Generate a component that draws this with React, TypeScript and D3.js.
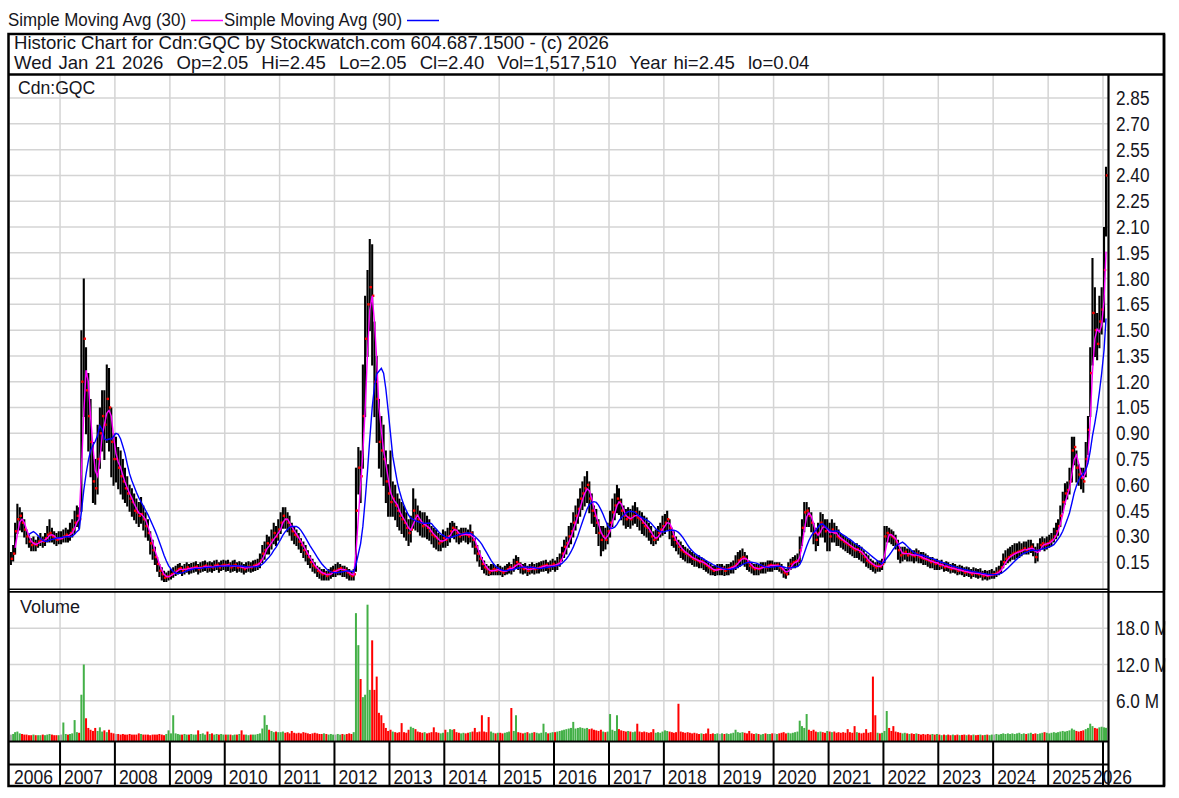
import React from 'react';
import * as d3 from 'd3';

// ---- DATA (semi-monthly periods, Feb 2006 .. Jan 21 2026) ----
const closes = [
  // 2006 (Feb-Dec)
  .17,.20,.33,.40,.42,.38,.34,.30,.27,.25,.26,.25,.27,.28,.27,.29,.31,.32,.30,.29,.28,.29,
  // 2007
  .29,.30,.31,.30,.32,.34,.38,.42,.40,1.20,1.45,1.15,1.00,.85,.62,.58,.75,.90,1.00,.95,1.10,1.05,.85,.75,
  // 2008
  .75,.70,.65,.62,.58,.55,.52,.50,.45,.44,.42,.43,.40,.36,.32,.26,.22,.18,.14,.10,.08,.06,.065,.07,
  // 2009
  .08,.09,.10,.11,.115,.10,.11,.12,.11,.115,.12,.125,.11,.12,.125,.13,.12,.125,.12,.13,.135,.12,.13,.135,
  // 2010
  .13,.135,.12,.13,.135,.12,.125,.12,.11,.12,.125,.12,.13,.135,.14,.16,.20,.22,.26,.25,.28,.32,.30,.34,
  // 2011
  .38,.42,.40,.38,.36,.33,.31,.30,.27,.25,.22,.20,.18,.15,.13,.12,.10,.09,.08,.085,.07,.08,.09,.10,
  // 2012
  .10,.11,.115,.10,.105,.09,.08,.07,.08,.45,.70,.65,1.00,1.45,1.65,1.75,1.70,1.20,1.10,.85,.80,.75,.62,.55,
  // 2013
  .50,.52,.48,.45,.42,.40,.38,.35,.32,.34,.45,.42,.40,.38,.36,.37,.35,.33,.31,.30,.29,.26,.27,.29,
  // 2014
  .28,.30,.33,.35,.34,.32,.30,.31,.32,.31,.30,.32,.28,.24,.20,.17,.14,.12,.11,.09,.10,.11,.10,.11,
  // 2015
  .10,.09,.10,.11,.12,.11,.13,.15,.14,.12,.11,.115,.10,.11,.12,.11,.115,.12,.125,.13,.135,.12,.13,.14,
  // 2016
  .13,.14,.16,.20,.24,.26,.30,.33,.38,.42,.46,.52,.55,.58,.60,.52,.45,.42,.38,.32,.28,.30,.28,.33,
  // 2017
  .38,.44,.48,.52,.50,.45,.42,.40,.41,.40,.42,.44,.41,.40,.38,.36,.35,.33,.30,.28,.29,.32,.34,.36,
  // 2018
  .38,.40,.35,.30,.28,.26,.24,.22,.21,.20,.19,.18,.17,.165,.16,.15,.155,.14,.13,.12,.11,.10,.105,.11,
  // 2019
  .11,.115,.10,.11,.115,.12,.125,.14,.16,.17,.18,.17,.15,.13,.12,.11,.115,.11,.12,.125,.12,.13,.135,.13,
  // 2020
  .13,.135,.12,.11,.09,.08,.12,.14,.15,.155,.16,.22,.35,.44,.45,.42,.38,.32,.28,.32,.38,.36,.33,.34,
  // 2021
  .30,.34,.32,.30,.29,.28,.27,.26,.25,.24,.23,.22,.225,.21,.20,.18,.16,.15,.14,.13,.12,.13,.125,.14,
  // 2022
  .30,.32,.31,.30,.29,.27,.22,.19,.20,.21,.19,.20,.19,.185,.20,.18,.175,.17,.165,.16,.15,.155,.14,.145,
  // 2023
  .13,.135,.12,.125,.12,.11,.115,.11,.10,.105,.10,.09,.095,.09,.08,.09,.085,.08,.085,.07,.075,.07,.075,.08,
  // 2024
  .08,.09,.10,.12,.15,.17,.18,.19,.20,.205,.21,.215,.22,.23,.22,.23,.24,.22,.18,.22,.25,.26,.25,.26,
  // 2025
  .27,.28,.30,.33,.36,.42,.50,.55,.57,.62,.80,.82,.70,.66,.64,.62,.75,.92,1.25,1.60,1.50,1.42,1.55,1.62,
  // 2026
  1.85,2.40,
];

const highs = [
  .21,.25,.38,.49,.47,.44,.40,.34,.31,.29,.30,.28,.30,.32,.30,.32,.36,.40,.35,.33,.32,.33,
  .33,.34,.35,.34,.38,.40,.45,.48,.47,1.50,1.80,1.40,1.25,1.10,.85,.75,.95,1.05,1.15,1.15,1.30,1.28,1.05,.90,
  .88,.82,.80,.75,.70,.65,.60,.58,.55,.52,.50,.53,.48,.44,.40,.33,.28,.24,.18,.14,.12,.10,.09,.10,
  .11,.12,.13,.14,.145,.13,.14,.15,.14,.145,.15,.155,.14,.15,.155,.16,.15,.155,.15,.16,.165,.15,.16,.165,
  .16,.165,.15,.16,.165,.15,.155,.15,.14,.15,.155,.15,.16,.165,.17,.20,.25,.27,.31,.30,.34,.38,.36,.40,
  .44,.47,.47,.44,.42,.38,.36,.34,.32,.29,.27,.25,.22,.19,.17,.15,.13,.12,.11,.11,.10,.11,.12,.13,
  .14,.15,.14,.13,.13,.12,.11,.10,.11,.70,.82,.80,1.30,1.70,1.85,2.03,2.00,1.55,1.35,1.10,1.00,.95,.80,.72,
  .80,.62,.60,.55,.52,.50,.48,.44,.40,.42,.58,.52,.48,.45,.44,.44,.42,.40,.36,.35,.34,.32,.31,.34,
  .33,.35,.38,.39,.38,.36,.34,.35,.35,.35,.34,.37,.33,.29,.25,.22,.18,.16,.14,.13,.14,.14,.13,.14,
  .13,.12,.13,.14,.15,.14,.17,.19,.18,.15,.14,.145,.13,.14,.15,.14,.145,.15,.155,.16,.165,.15,.16,.17,
  .16,.18,.20,.24,.28,.30,.36,.38,.44,.48,.52,.58,.62,.65,.68,.62,.55,.48,.46,.40,.36,.36,.35,.38,
  .45,.52,.55,.60,.58,.52,.48,.46,.47,.46,.48,.50,.47,.45,.44,.42,.41,.38,.36,.33,.34,.36,.38,.42,
  .43,.45,.40,.35,.33,.30,.28,.27,.25,.24,.23,.22,.21,.20,.19,.19,.18,.17,.16,.15,.14,.13,.13,.14,
  .14,.14,.13,.14,.14,.15,.16,.19,.21,.22,.23,.21,.19,.16,.15,.14,.14,.14,.15,.15,.15,.16,.16,.16,
  .15,.15,.15,.14,.12,.11,.15,.17,.18,.19,.20,.30,.40,.50,.50,.47,.44,.38,.35,.38,.44,.43,.40,.40,
  .38,.40,.38,.36,.34,.32,.31,.30,.29,.28,.27,.26,.26,.25,.24,.22,.20,.19,.17,.16,.15,.16,.16,.17,
  .36,.36,.35,.34,.33,.31,.28,.24,.24,.24,.23,.23,.22,.22,.23,.22,.21,.21,.20,.19,.18,.18,.17,.17,
  .16,.165,.15,.155,.15,.14,.145,.14,.13,.135,.13,.12,.125,.12,.11,.12,.115,.11,.115,.10,.105,.10,.105,.11,
  .10,.12,.13,.16,.20,.22,.23,.24,.25,.26,.26,.27,.26,.27,.27,.28,.28,.26,.24,.26,.29,.30,.29,.30,
  .31,.32,.35,.38,.40,.48,.56,.61,.62,.70,.88,.88,.80,.72,.70,.70,.85,1.00,1.40,1.92,1.75,1.60,1.70,1.75,
  2.10,2.45,
];

const lows = [
  .14,.16,.20,.32,.34,.33,.30,.26,.24,.22,.22,.22,.24,.25,.24,.25,.27,.27,.27,.26,.25,.26,
  .26,.27,.27,.27,.28,.30,.32,.36,.35,.45,1.00,.90,.80,.65,.50,.49,.55,.70,.80,.75,.85,.80,.65,.60,
  .62,.58,.55,.52,.50,.48,.45,.42,.40,.38,.36,.38,.34,.30,.28,.20,.17,.14,.10,.07,.05,.04,.04,.05,
  .055,.065,.075,.085,.09,.075,.085,.095,.085,.09,.095,.10,.085,.095,.10,.105,.095,.10,.095,.105,.11,.095,.105,.11,
  .10,.105,.095,.10,.105,.095,.10,.095,.085,.095,.10,.095,.10,.105,.11,.12,.15,.17,.20,.20,.23,.26,.25,.28,
  .32,.35,.35,.33,.31,.28,.26,.25,.23,.21,.18,.16,.14,.12,.10,.09,.07,.06,.05,.05,.05,.05,.06,.07,
  .07,.08,.08,.07,.07,.06,.05,.05,.05,.10,.55,.50,.70,1.00,1.35,1.50,1.30,1.00,.85,.70,.65,.60,.50,.42,
  .42,.42,.40,.36,.34,.32,.30,.28,.25,.27,.35,.34,.33,.31,.30,.30,.29,.28,.26,.24,.23,.22,.22,.24,
  .24,.25,.27,.30,.29,.27,.26,.27,.28,.27,.26,.27,.24,.20,.16,.13,.11,.09,.08,.075,.08,.08,.08,.08,
  .08,.07,.08,.085,.09,.085,.10,.12,.11,.09,.085,.09,.075,.085,.09,.085,.09,.09,.10,.10,.105,.09,.10,.11,
  .10,.11,.13,.16,.18,.20,.24,.26,.30,.34,.38,.42,.46,.48,.50,.44,.38,.36,.32,.25,.19,.22,.23,.26,
  .30,.36,.40,.44,.43,.40,.37,.35,.36,.35,.37,.38,.36,.34,.32,.31,.30,.28,.26,.25,.26,.28,.30,.31,
  .32,.34,.29,.25,.24,.22,.20,.18,.17,.16,.15,.15,.14,.13,.13,.12,.12,.11,.10,.09,.08,.08,.075,.08,
  .08,.08,.075,.08,.08,.09,.09,.11,.12,.13,.14,.13,.11,.10,.09,.08,.08,.08,.09,.09,.09,.10,.10,.10,
  .11,.11,.10,.09,.065,.06,.08,.11,.12,.12,.13,.15,.25,.33,.36,.36,.33,.26,.22,.25,.30,.30,.27,.22,
  .22,.27,.27,.25,.25,.24,.23,.22,.21,.20,.19,.18,.18,.17,.16,.15,.13,.12,.11,.10,.09,.10,.10,.11,
  .15,.27,.27,.26,.25,.23,.17,.15,.16,.17,.16,.16,.16,.15,.16,.15,.15,.14,.14,.13,.12,.12,.11,.11,
  .11,.115,.10,.105,.10,.09,.095,.09,.08,.085,.08,.07,.075,.07,.06,.07,.065,.06,.065,.05,.055,.05,.055,.06,
  .06,.07,.08,.09,.12,.14,.15,.16,.17,.17,.18,.18,.19,.20,.20,.20,.21,.19,.15,.16,.22,.23,.22,.23,
  .24,.25,.27,.29,.31,.36,.44,.49,.52,.55,.62,.72,.62,.60,.58,.56,.65,.78,1.00,1.30,1.35,1.33,1.40,1.48,
  1.55,2.05,
];

// daily-scale volume, millions of shares
const volumes = [
  .4,.5,.8,.9,.6,.5,.4,.4,.3,.3,.4,.3,.3,.3,.4,.3,.4,.5,.4,.3,.3,.3,
  .4,2.4,.5,.4,.5,.6,2.8,.8,.7,7.0,12.0,3.1,1.5,1.2,1.0,1.5,1.0,1.6,.9,1.1,.8,1.2,.7,.6,
  .5,.5,.4,.5,.4,.4,.5,.4,.4,.4,.6,.5,.4,.4,.4,.3,.4,.4,.4,.5,.4,.3,.5,1.1,
  .6,3.6,.6,.5,.4,.4,.5,.4,.4,.5,.4,.4,1.1,.5,.6,.4,.9,.5,.6,.4,.5,.4,.5,.4,
  .4,.4,.4,.3,.4,.4,.5,1.1,.4,.4,.3,.4,.4,.4,.5,.6,1.4,3.6,2.0,1.2,1.0,.8,.9,.8,
  .8,.9,.7,.8,.6,1.0,.7,.6,.7,.6,.8,.7,.6,.5,.6,.7,.6,.5,.5,.6,.5,.4,.5,.4,
  .4,.5,.4,.5,.4,.5,.6,.5,.8,20.5,15.2,9.6,6.6,7.0,21.9,7.8,16.0,7.8,10.0,4.0,3.6,2.3,1.5,1.0,
  1.2,.9,.8,.7,.8,2.3,.8,.7,1.2,1.7,1.5,1.3,.9,.8,.7,.8,.6,.7,.8,1.6,.8,.7,.6,.7,
  1.2,.8,1.3,1.2,1.3,.8,.7,.6,.7,.6,.7,.8,.9,1.5,.8,.9,3.6,.9,.8,3.3,.9,.7,.6,.7,
  .7,.6,.7,.8,.9,4.8,1.0,3.6,.8,.7,.6,.7,.8,.6,.7,.8,.7,.6,.7,2.2,.8,.6,.7,.8,
  .8,.9,1.0,1.1,1.2,1.3,1.4,1.5,2.5,1.4,1.5,1.6,1.5,1.4,1.5,1.3,1.4,1.2,1.1,1.0,1.2,.9,.8,.9,
  3.8,1.2,1.0,3.6,1.3,1.1,1.0,.9,1.0,.9,.8,.9,2.2,.9,.8,.9,.8,.7,.8,1.3,.7,.8,.7,.9,
  1.1,1.0,.9,.8,.7,.8,5.5,.9,.8,.7,.8,.7,.6,.7,.6,.5,.6,.5,.6,1.4,.5,.6,.5,.6,
  .5,.6,.5,.6,.5,.6,.7,1.2,.8,.7,.8,.7,.6,1.0,.6,.5,.6,.5,.4,.5,.6,.5,.5,.6,
  .6,.5,.6,.7,.8,.6,.7,.6,.7,.8,.9,2.7,1.8,1.5,3.8,1.2,1.0,1.2,.9,.8,.9,.8,.7,1.0,
  .9,.8,.9,.7,.8,.7,.8,.7,1.3,.8,.7,1.8,.8,.7,.6,.7,1.3,.7,.8,10.0,3.6,.7,.6,.7,
  1.0,4.3,1.5,1.0,1.8,.9,.8,.7,.6,.7,.6,.5,.6,.5,.6,.5,.4,.5,.4,.5,.4,.5,.4,.5,
  .4,.3,.4,.3,.4,.3,.4,.3,.4,.3,.35,.4,.3,.4,.3,.4,.3,.35,.4,.3,.35,.4,.3,.4,
  .4,.5,.4,.5,.6,.5,.6,.5,.6,.5,.6,.7,.5,.6,.5,.6,.7,.5,.6,.5,.6,.7,.8,.7,
  .6,.7,.8,.7,.8,.9,1.0,.9,1.0,1.1,1.4,1.2,1.0,.9,1.0,1.1,1.3,1.5,2.2,1.8,1.5,1.4,1.6,1.7,
  1.6,1.52,
];

const priceTicks = [0.15,0.30,0.45,0.60,0.75,0.90,1.05,1.20,1.35,1.50,1.65,1.80,1.95,2.10,2.25,2.40,2.55,2.70,2.85];
const volumeTicks = [6, 12, 18];
const volumeTickLabels = ['6.0 M', '12.0 M', '18.0 M'];
const years = [2006,2007,2008,2009,2010,2011,2012,2013,2014,2015,2016,2017,2018,2019,2020,2021,2022,2023,2024,2025,2026];
const smaSeries = [
  { label: 'Simple Moving Avg (30)', color: '#ff00ff', periods: 3 },
  { label: 'Simple Moving Avg (90)', color: '#0000ff', periods: 9 },
];
const symbol = 'Cdn:GQC';
const headerLine1 = 'Historic Chart for Cdn:GQC by Stockwatch.com 604.687.1500 - (c) 2026';
const headerLine2 = 'Wed Jan 21 2026  Op=2.05  Hi=2.45  Lo=2.05  Cl=2.40  Vol=1,517,510  Year hi=2.45  lo=0.04';

// ---- LAYOUT ----
const W = 1179, H = 798;
const frameL = 8.5, frameR = 1164, frameT = 34, frameB = 786;
const plotL = 9.5, plotR = 1108.5;
const titleB = 74.5, priceB = 589.3, volT = 591.8, volB = 741.5, emptyB = 764.5;
const FONT = "'Liberation Sans', Arial, Helvetica, sans-serif";
const INK = '#151520';

const dates: Date[] = closes.map((_, i) => new Date(2006, 1 + Math.floor(i / 2), i % 2 === 0 ? 8 : 23));
dates[dates.length - 1] = new Date(2026, 0, 21);

const x = d3.scaleTime().domain([new Date(2006, 1, 2), new Date(2026, 0, 21)]).range([10, 1106]);
const y = d3.scaleLinear().domain([0, 2.99]).range([588, 74]);
const yv = d3.scaleLinear().domain([0, 24]).range([737, 592]);

function sma(vals: number[], n: number) {
  return vals.map((_, i) => (i < n - 1 ? null : (d3.mean(vals.slice(i - n + 1, i + 1)) as number)));
}

const T = ({ x: tx, y: ty, size, sx = 1, sy = 1, ws = 0, anchor = 'start', children }: any) => (
  <text
    transform={`translate(${tx},${ty}) scale(${sx},${sy})`}
    fontSize={size}
    fontFamily={FONT}
    fill={INK}
    textAnchor={anchor}
    wordSpacing={ws}
    xmlSpace="preserve"
    style={{ whiteSpace: 'pre' }}
  >
    {children}
  </text>
);

export default function App() {
  const yearX = years.map((yr) => x(new Date(yr, 0, 1)));
  const lineGen = d3
    .line<number | null>()
    .defined((d) => d != null)
    .x((_, i) => x(dates[i]))
    .y((d) => y(d as number));

  return (
    <div style={{ position: 'absolute', left: 0, top: 0 }}>
      <svg width={W} height={H} style={{ display: 'block', background: '#fff' }}>
        <defs>
          <clipPath id="pclip">
            <rect x={plotL} y={titleB + 1} width={plotR - plotL} height={priceB - titleB - 1} />
          </clipPath>
          <clipPath id="vclip">
            <rect x={plotL} y={volT} width={plotR - plotL} height={volB - volT} />
          </clipPath>
        </defs>
        <rect x={0} y={0} width={W} height={H} fill="#fff" />

        {/* legend */}
        <T x={8} y={26} size={16.9} sy={1.05}>{smaSeries[0].label}</T>
        <line x1={191} x2={223} y1={20.5} y2={20.5} stroke={smaSeries[0].color} strokeWidth={1.5} />
        <T x={224} y={26} size={16.9} sy={1.05}>{smaSeries[1].label}</T>
        <line x1={407} x2={439} y1={20.5} y2={20.5} stroke={smaSeries[1].color} strokeWidth={1.5} />

        {/* grids */}
        <g stroke="#d4d4d4" strokeWidth={1.5}>
          {priceTicks.map((t) => (
            <line key={'pg' + t} x1={plotL} x2={plotR} y1={y(t)} y2={y(t)} />
          ))}
          {volumeTicks.map((t) => (
            <line key={'vg' + t} x1={plotL} x2={plotR} y1={yv(t)} y2={yv(t)} />
          ))}
          {yearX.slice(1).map((xx, i) => (
            <g key={'yg' + i}>
              <line x1={xx} x2={xx} y1={titleB} y2={priceB} />
              <line x1={xx} x2={xx} y1={volT} y2={volB} />
            </g>
          ))}
        </g>

        {/* price bars */}
        <g clipPath="url(#pclip)">
          {closes.map((c, i) => (
            <line key={'b' + i} x1={x(dates[i])} x2={x(dates[i])} y1={y(lows[i]) + 1} y2={y(highs[i])} stroke="#000" strokeWidth={2.1} />
          ))}
          {closes.map((c, i) => (
            <rect key={'c' + i} x={x(dates[i]) - 0.2} y={y(c) - 1.2} width={2.4} height={2.4} fill="#ff0000" />
          ))}
          {smaSeries.map((s) => (
            <path key={s.label} d={lineGen(sma(closes, s.periods)) || ''} fill="none" stroke={s.color} strokeWidth={1.4} />
          ))}
        </g>

        {/* volume bars */}
        <g clipPath="url(#vclip)">
          {volumes.map((v, i) => {
            const prev = i > 0 ? closes[i - 1] : closes[i];
            const col = closes[i] > prev ? '#43b047' : closes[i] < prev ? '#ff0000' : '#a8a8a8';
            return <rect key={'v' + i} x={x(dates[i]) - 1} y={yv(v)} width={2} height={volB - yv(v)} fill={col} />;
          })}
        </g>

        {/* frame */}
        <g stroke="#000" fill="none">
          <rect x={frameL} y={frameT} width={frameR - frameL} height={frameB - frameT} strokeWidth={2.5} />
          <line x1={frameL} x2={frameR} y1={titleB} y2={titleB} strokeWidth={2.5} />
          <line x1={plotR} x2={plotR} y1={titleB} y2={frameB} strokeWidth={2.2} />
          <line x1={frameL} x2={plotR} y1={priceB} y2={priceB} strokeWidth={1.4} />
          <line x1={frameL} x2={frameR} y1={volT} y2={volT} strokeWidth={1.8} />
          <line x1={frameL} x2={plotR} y1={volB} y2={volB} strokeWidth={2} />
          <line x1={frameL} x2={plotR} y1={emptyB} y2={emptyB} strokeWidth={2} />
          {yearX.slice(1).map((xx, i) => (
            <line key={'yd' + i} x1={xx} x2={xx} y1={volB} y2={frameB} strokeWidth={2} />
          ))}
        </g>

        {/* header */}
        <T x={14} y={49} size={17.8} sx={1.045}>{headerLine1}</T>
        <T x={14} y={69} size={17.8} sx={1.045} ws={1.3}>{headerLine2}</T>
        <T x={18} y={94} size={17.6}>{symbol}</T>
        <T x={20} y={613} size={18}>Volume</T>

        {/* price axis labels */}
        {priceTicks.map((t) => (
          <T key={'pl' + t} x={1116} y={y(t) + 7} size={17.2} sy={1.15}>{t.toFixed(2)}</T>
        ))}
        {volumeTicks.map((t, i) => (
          <T key={'vl' + t} x={1116} y={yv(t) + 7} size={17.2} sy={1.15}>{volumeTickLabels[i]}</T>
        ))}
        {/* clip volume labels at the right frame */}
        <rect x={frameR + 1.25} y={590} width={W - frameR} height={160} fill="#fff" />
        <line x1={frameR} x2={frameR} y1={frameT} y2={frameB} stroke="#000" strokeWidth={2.5} />

        {/* year labels */}
        {years.map((yr, i) => {
          const lx = i === 0 ? plotL + 4.5 : i === years.length - 1 ? yearX[i] - 10 : yearX[i] + 4;
          return (
            <T key={'yl' + yr} x={lx} y={784} size={17.5} sy={1.15}>{String(yr)}</T>
          );
        })}
      </svg>
    </div>
  );
}
